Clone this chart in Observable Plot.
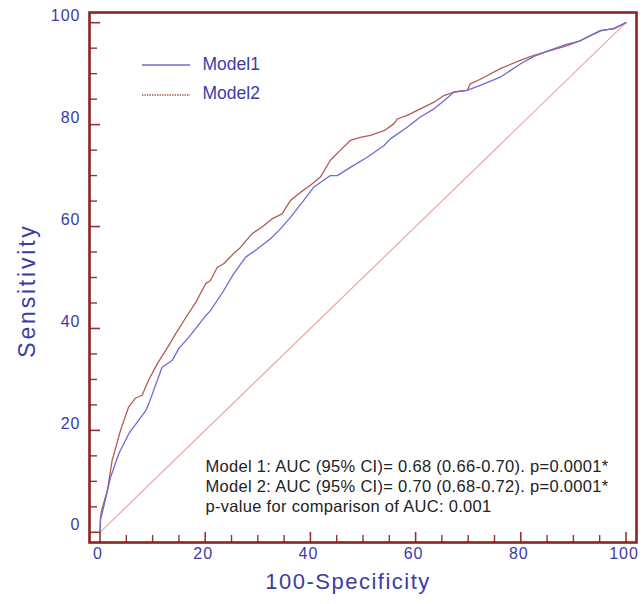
<!DOCTYPE html>
<html><head><meta charset="utf-8">
<script src="https://cdn.jsdelivr.net/npm/d3@7"></script>
<script src="https://cdn.jsdelivr.net/npm/@observablehq/plot@0.6"></script>
<style>
body{margin:0;background:#fff}
#chart{width:642px;height:604px}
</style>
</head><body><div id="chart"></div>
<script>
// Model 1 (blue) ROC points: 100-Specificity vs Sensitivity
const model1X = [0,0.1,0.4,2.0,3.6,5.5,8.0,8.7,9.3,11.8,13.7,15.0,16.9,20.1,21.0,23.5,25.4,27.7,29.9,32.4,34.0,36.2,38.7,40.6,43.8,45.1,47.6,50.8,54.0,55.2,58.4,60.9,63.5,65.4,67.3,69.8,72.3,76.1,79.9,82.5,85.6,88.8,91.3,93.3,95.2,97.7,100];
const model1Y = [0,2.5,3.7,10.8,15.5,19.4,22.9,23.9,25.3,32.4,33.7,36.1,38.3,42.5,43.5,47.4,50.7,54.0,55.6,57.6,59.2,61.8,65.1,67.7,70.0,70.0,71.6,73.6,75.9,77.2,79.5,81.5,83.1,84.7,86.4,86.7,87.7,89.3,91.9,93.4,94.6,95.8,96.4,97.5,98.4,98.9,100];
// Model 2 (red) ROC points
const model2X = [0,0.1,0.3,1.4,2.3,3.9,5.4,6.7,8.0,9.2,10.9,12.5,14.4,16.3,18.2,20.1,21.0,22.3,23.5,25.4,26.7,28.9,30.8,32.7,34.6,36.2,38.1,40.0,41.9,43.8,45.7,47.6,49.5,51.4,54.0,55.9,56.5,58.4,60.9,63.5,65.4,67.3,69.8,70.4,72.3,76.1,79.9,82.5,85.6,88.8,91.3,93.3,95.2,97.7,100];
const model2Y = [0,3.0,4.3,8.2,14.1,20.0,24.5,26.3,26.9,29.8,33.1,35.7,39.0,42.1,45.1,48.8,49.4,52.0,52.7,54.7,55.9,58.6,59.9,61.5,62.5,65.1,66.7,68.1,69.7,73.0,75.0,76.9,77.5,77.9,78.8,80.2,81.1,81.8,83.1,84.4,85.7,86.4,86.7,88.0,88.9,91.0,92.6,93.6,94.5,95.5,96.5,97.5,98.5,98.8,100];
// reference diagonal
const diagX = [0,100];
const diagY = [0,100];
// ticks
const majorTicks = [0,20,40,60,80,100];
const minorTicks = [5,10,15,25,30,35,45,50,55,65,70,75,85,90,95];
const seriesNames = ["Model1","Model2"];
const annotationLines = [
  "Model 1: AUC (95% CI)= 0.68 (0.66-0.70). p=0.0001*",
  "Model 2: AUC (95% CI)= 0.70 (0.68-0.72). p=0.0001*",
  "p-value for comparison of AUC: 0.001"
];
const xTitle = "100-Specificity";
const yTitle = "Sensitivity";

const blue = "#6c6cd2", red = "#b55a52", pink = "#eba7a5", frameCol = "#8c2222", tickCol = "#9a3030", labCol = "#3c3ca6";
const font = "'Liberation Sans', Arial, sans-serif";

const m1 = model1X.map((x,i)=>({x, y: model1Y[i]}));
const m2 = model2X.map((x,i)=>({x, y: model2Y[i]}));
const diag = diagX.map((x,i)=>({x, y: diagY[i]}));

function legendLines(index, scales, values, dims) {
  const g = d3.create("svg:g");
  const x0 = dims.marginLeft + 53, x1 = dims.marginLeft + 101;
  g.append("line").attr("x1", x0).attr("x2", x1).attr("y1", dims.marginTop + 53).attr("y2", dims.marginTop + 53)
    .attr("stroke", blue).attr("stroke-width", 1.3);
  g.append("line").attr("x1", x0).attr("x2", x1).attr("y1", dims.marginTop + 83).attr("y2", dims.marginTop + 83)
    .attr("stroke", red).attr("stroke-width", 1.3).attr("stroke-dasharray", "1.5,1");
  return g.node();
}

const chart = Plot.plot({
  width: 642, height: 604,
  marginLeft: 89, marginRight: 6, marginTop: 12, marginBottom: 62,
  style: {fontFamily: font, background: "#fff"},
  x: {domain: [-2, 102], axis: null},
  y: {domain: [-2, 102], axis: null},
  marks: [
    Plot.line(diag, {x: "x", y: "y", stroke: pink, strokeWidth: 1.2}),
    Plot.line(m2, {x: "x", y: "y", stroke: red, strokeWidth: 1.3}),
    Plot.line(m1, {x: "x", y: "y", stroke: blue, strokeWidth: 1.3}),
    // inward tick marks
    Plot.tickX(majorTicks, {x: d=>d, insetTop: 520, stroke: tickCol, strokeWidth: 1.6}),
    Plot.tickX(minorTicks, {x: d=>d, insetTop: 523, stroke: tickCol, strokeWidth: 1.4}),
    Plot.tickY(majorTicks, {y: d=>d, insetRight: 536, stroke: tickCol, strokeWidth: 1.6}),
    Plot.tickY(minorTicks, {y: d=>d, insetRight: 539, stroke: tickCol, strokeWidth: 1.4}),
    Plot.frame({stroke: frameCol, strokeWidth: 2.6}),
    // tick labels
    Plot.text(majorTicks, {x: d=>d, text: d=>String(d), frameAnchor: "bottom", dy: 16, dx: -2, fill: labCol, fontSize: 16, ariaDescription: "ls-1"}),
    Plot.text(majorTicks, {y: d=>d, text: d=>String(d), frameAnchor: "left", textAnchor: "end", dx: -9, dy: -7, fill: labCol, fontSize: 16, ariaDescription: "ls-1"}),
    // axis titles
    Plot.text([xTitle], {text: d=>d, frameAnchor: "bottom", textAnchor: "middle", dx: -15, dy: 46, fill: labCol, fontSize: 22, ariaDescription: "ls-1.5"}),
    Plot.text([yTitle], {text: d=>d, frameAnchor: "left", textAnchor: "middle", rotate: -90, dx: -62, dy: 13, fill: labCol, fontSize: 23, ariaDescription: "ls-2.8"}),
    // legend
    Plot.text([seriesNames[0]], {text: d=>d, frameAnchor: "top-left", textAnchor: "start", dx: 113, dy: 45, fill: labCol, fontSize: 17.5}),
    Plot.text([seriesNames[1]], {text: d=>d, frameAnchor: "top-left", textAnchor: "start", dx: 113, dy: 74, fill: labCol, fontSize: 17.5}),
    legendLines,
    // annotation
    Plot.text([annotationLines.join("\n")], {text: d=>d, frameAnchor: "bottom-left", textAnchor: "start", lineAnchor: "top", dx: 116, dy: -85, lineHeight: 1.21, fill: "#222", fontSize: 16.5, ariaDescription: "ls-0.3"})
  ]
});
// letter spacing (style only) for texts that are wider in the reference
d3.select(chart).selectAll("[aria-description^='ls-']").each(function() {
  const ls = this.getAttribute("aria-description").slice(3);
  d3.select(this).style("letter-spacing", ls + "px");
});
document.getElementById("chart").appendChild(chart);
</script>
</body></html>
